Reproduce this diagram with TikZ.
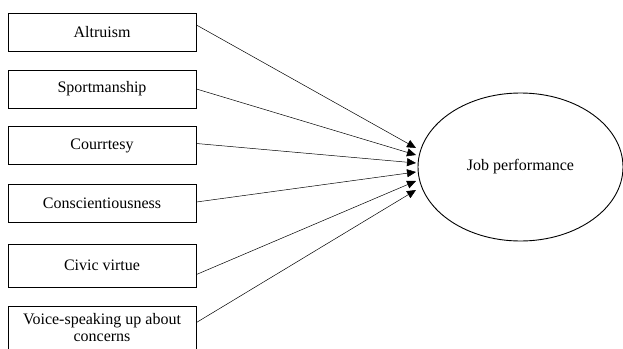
\documentclass[tikz,border=0pt]{standalone}
\usepackage{fontspec}
\setmainfont{Liberation Serif}
\usetikzlibrary{arrows.meta,shapes.geometric}
\begin{document}
\begin{tikzpicture}[x=1pt,y=-1pt,
  factor/.style={draw,line width=0.9pt,minimum width=188pt,minimum height=38pt,inner sep=0pt,font=\fontsize{16}{16.5}\selectfont,align=center},
  link/.style={line width=0.5pt,-{Triangle[length=9pt,width=8pt]}}]
\useasboundingbox (0,0) rectangle (623,348);
\node[factor] (a) at (102,32) {Altruism};
\node[factor] (b) at (102,89) {Sportmanship};
\node[factor] (c) at (102,145.5) {Courrtesy};
\node[factor] (d) at (102,203.5) {Conscientiousness};
\node[factor,minimum height=43pt] (e) at (102,265.5) {\raisebox{-1.5pt}{Civic virtue}};
\node[factor,minimum height=43pt] (f) at (102,327.5) {\raisebox{1pt}{Voice-speaking up about}\\concerns};
\node[draw,ellipse,line width=0.9pt,minimum width=205pt,minimum height=148pt,inner sep=0pt,font=\fontsize{16}{17}\selectfont] (j) at (520.5,167) {Job performance};
\coordinate (ea) at (416,148);
\coordinate (eb) at (416,155);
\coordinate (ec) at (416,163);
\coordinate (ed) at (416,172);
\coordinate (ee) at (416,181);
\coordinate (ef) at (416,190);
\draw[link] ([yshift=7pt]a.east) -- (ea);
\draw[link] (b.east) -- (eb);
\draw[link] ([yshift=2pt]c.east) -- (ec);
\draw[link] ([yshift=1.5pt]d.east) -- (ed);
\draw[link] ([yshift=-9pt]e.east) -- (ee);
\draw[link] ([yshift=5pt]f.east) -- (ef);
\end{tikzpicture}
\end{document}
